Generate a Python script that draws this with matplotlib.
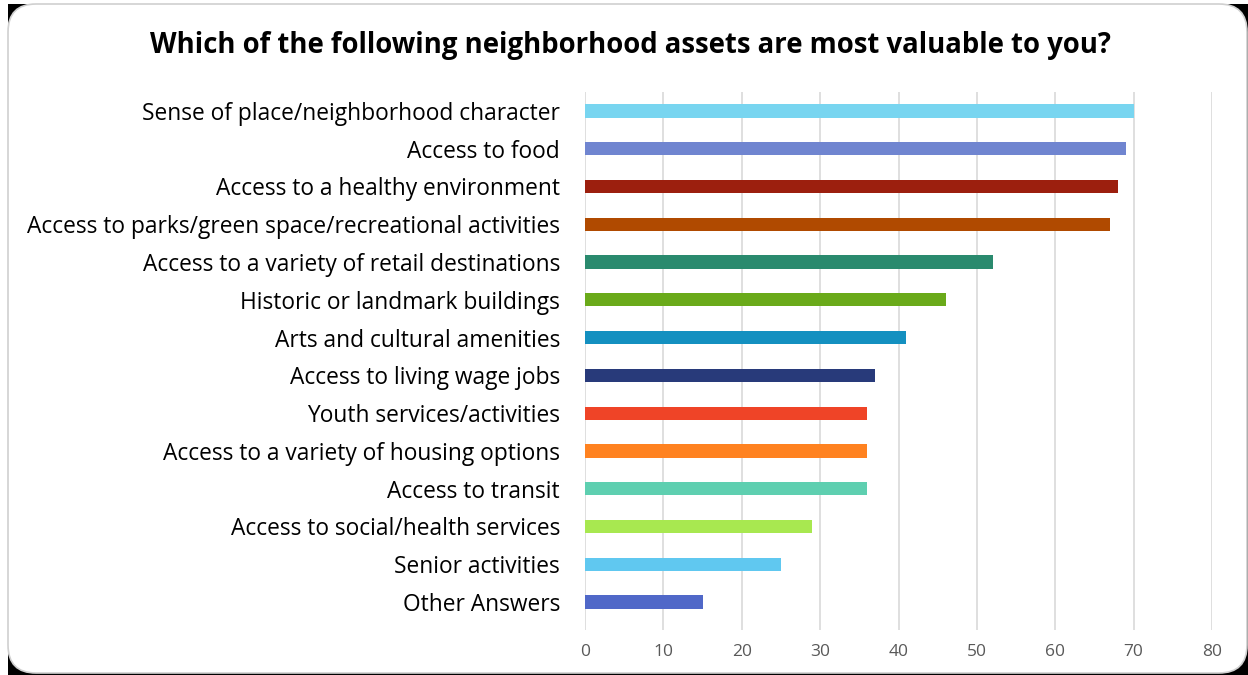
import matplotlib.pyplot as plt
from matplotlib.patches import FancyBboxPatch, Rectangle
import numpy as np

categories = [
    "Sense of place/neighborhood character",
    "Access to food",
    "Access to a healthy environment",
    "Access to parks/green space/recreational activities",
    "Access to a variety of retail destinations",
    "Historic or landmark buildings",
    "Arts and cultural amenities",
    "Access to living wage jobs",
    "Youth services/activities",
    "Access to a variety of housing options",
    "Access to transit",
    "Access to social/health services",
    "Senior activities",
    "Other Answers",
]
values = [70, 69, 68, 67, 52, 46, 41, 37, 36, 36, 36, 29, 25, 15]
colors = [
    "#78d5f0", "#7085d0", "#9c1f0e", "#b04a00", "#2a8a6e", "#6aaa1a", "#1490c0",
    "#283a7a", "#ef4427", "#ff8220", "#5ecfb0", "#a8e850", "#60c8f0", "#5068c8",
]

plt.rcParams["font.family"] = ["Open Sans", "DejaVu Sans"]

W, H = 1248, 675
fig = plt.figure(figsize=(W / 100, H / 100), dpi=100)
fig.patch.set_facecolor("white")

# black backing with white rounded panel on top
fig.patches.append(Rectangle((8 / W, 0), 1 - 8 / W, 1 - 4 / H, transform=fig.transFigure,
                             facecolor="black", edgecolor="none", zorder=-3))
r = 28
fig.patches.append(FancyBboxPatch((8 / W, 2 / H), (1247 - 8) / W, (671 - 2) / H,
                                  boxstyle=f"round,pad=0,rounding_size={r / W}",
                                  transform=fig.transFigure, facecolor="white",
                                  edgecolor="#d0d0d0", linewidth=1.2, zorder=-2,
                                  mutation_aspect=W / H))

ax = fig.add_axes([585 / W, 45 / H, (1212 - 585) / W, (630 - 92) / H])
ax.set_zorder(2)
ax.set_facecolor("none")
y = np.arange(len(categories))
ax.barh(y, values, height=0.35, color=colors, zorder=3)
ax.set_yticks(y)
ax.set_yticklabels(categories, fontsize=16.4, color="black")
ax.set_ylim(13.74, -0.5)
ax.set_xlim(0, 80)
ax.set_xticks(range(0, 81, 10))
ax.tick_params(axis="x", labelsize=12.5, labelcolor="#595959", length=0, pad=10)
ax.tick_params(axis="y", length=0, pad=18)
ax.grid(axis="x", color="#d9d9d9", linewidth=1.2, zorder=0)
for s in ax.spines.values():
    s.set_visible(False)

fig.text(630 / W, 1 - 46 / H, "Which of the following neighborhood assets are most valuable to you?",
         ha="center", va="center", fontsize=19.8, fontweight="bold", color="black")

plt.savefig("out.png", dpi=100, facecolor=fig.get_facecolor())
plt.close()
